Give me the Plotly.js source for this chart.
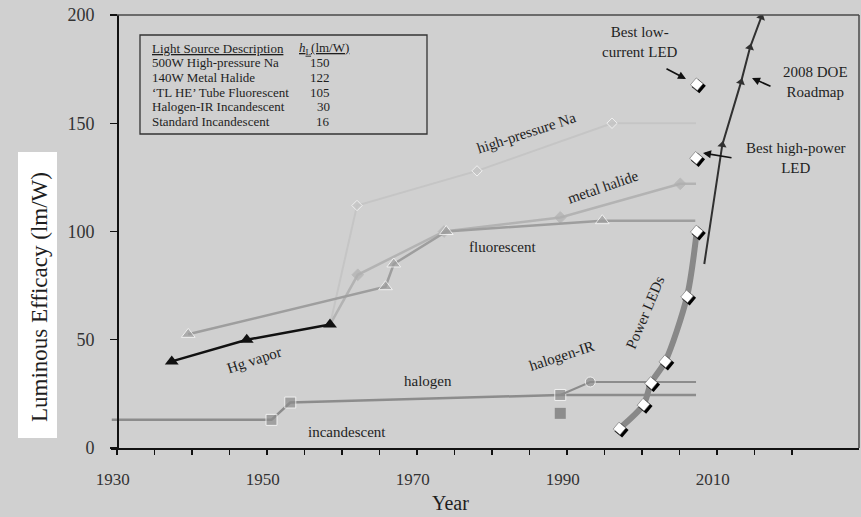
<!DOCTYPE html>
<html>
<head>
<meta charset="utf-8">
<script src="https://cdn.plot.ly/plotly-3.0.1.min.js"></script>
<style>
  html, body { margin: 0; padding: 0; background: #d0d0d0; }
  #chart { width: 861px; height: 517px; }
</style>
</head>
<body>
<div id="chart"></div>
<script>
// ---- Efficacy history (lm/W) by year ----
const incYears    = [1929.3, 1950.6, 1953.1, 1989.1, 2007.2];
const incEff      = [13, 13, 21, 24.5, 24.5];
const stdIncYears = [1989.1];
const stdIncEff   = [16];
const halIRYears  = [1989.1, 1993.1, 2007.2];
const halIREff    = [24.5, 30.5, 30.5];
const hgYears     = [1937.3, 1947.3, 1958.4];
const hgEff       = [40, 50, 57];
const fluorYears  = [1939.5, 1965.8, 1966.9, 1973.9, 1994.7, 2007.1];
const fluorEff    = [52.5, 74.5, 85, 100, 105, 105];
const mhYears     = [1958.4, 1962.1, 1973.6, 1989.1, 2005.1, 2007.2];
const mhEff       = [57, 80, 100, 106.5, 122, 122];
const hpsYears    = [1958.4, 1962.0, 1978.0, 1996.0, 2007.2];
const hpsEff      = [57, 112, 128, 150, 150];
const ledYears    = [1997.0, 2000.2, 2001.2, 2003.1, 2006.0, 2007.3];
const ledEff      = [9, 20, 30, 40, 70, 100];
const bestLowYear = [2007.3];
const bestLowEff  = [168];
const bestHiYear  = [2007.2];
const bestHiEff   = [134];
const doeYears    = [2008.3, 2010.7, 2013.2, 2014.4, 2015.9];
const doeEff      = [85, 140, 169, 185, 199];

// ---- Axis ticks ----
const xTickVals = [1930, 1935, 1940, 1945, 1950, 1955, 1960, 1965, 1970, 1975,
                   1980, 1985, 1990, 1995, 2000, 2005, 2010, 2015, 2020];
const xTickText = ['1930', '', '', '', '1950', '', '', '', '1970', '',
                   '', '', '1990', '', '', '', '2010', '', ''];
const yTickVals = [0, 50, 100, 150, 200];

// ---- Reference table ----
const tableLabels = ['500W High-pressure Na', '140W Metal Halide', '\u2018TL HE\u2019 Tube Fluorescent',
                     'Halogen-IR Incandescent', 'Standard Incandescent'];
const tableValues = ['150', '122', '105', '30', '16'];

// ---- Layout geometry (pixels) ----
const W = 861, H = 517;
const M = { l: 111, r: 2, t: 15, b: 69 };
const plotW = W - M.l - M.r, plotH = H - M.t - M.b;
const X_RANGE = [1929.2, 2028.93];
const Y_RANGE = [0, 200];
const pxPerYear = plotW / (X_RANGE[1] - X_RANGE[0]);
const pxPerUnit = plotH / (Y_RANGE[1] - Y_RANGE[0]);
// pixel -> paper helpers for frame, table and label placement
const px = v => (v - M.l) / plotW;
const py = v => (M.t + plotH - v) / plotH;
// pixel -> data helpers for text labels
const dx = v => X_RANGE[0] + (v - M.l) / pxPerYear;
const dy = v => Y_RANGE[0] + (M.t + plotH - v) / pxPerUnit;

const SERIF = 'Liberation Serif, Times New Roman, serif';
const INK = '#1e1e1e';

function sizes(n, idx, s) {
  const a = new Array(n).fill(0);
  idx.forEach(i => { a[i] = s; });
  return a;
}

const traces = [
  // high-pressure sodium
  { x: hpsYears, y: hpsEff, mode: 'lines+markers',
    line: { color: '#c5c5c5', width: 2 },
    marker: { symbol: 'diamond', color: '#c5c5c5', size: sizes(hpsYears.length, [1, 2, 3], 8) } },
  // metal halide
  { x: mhYears, y: mhEff, mode: 'lines+markers',
    line: { color: '#b3b3b3', width: 2.5 },
    marker: { symbol: 'diamond', color: '#b0b0b0', size: sizes(mhYears.length, [1, 2, 3, 4], 9) } },
  // fluorescent
  { x: fluorYears, y: fluorEff, mode: 'lines+markers',
    line: { color: '#9e9e9e', width: 2.5 },
    marker: { symbol: 'triangle-up', color: '#9e9e9e', size: sizes(fluorYears.length, [0, 1, 2, 3, 4], 12) } },
  // mercury vapor
  { x: hgYears, y: hgEff, mode: 'lines+markers',
    line: { color: '#111111', width: 2.5 },
    marker: { symbol: 'triangle-up', color: '#111111', size: 12 } },
  // incandescent / halogen
  { x: incYears, y: incEff, mode: 'lines+markers',
    line: { color: '#8c8c8c', width: 2.5 },
    marker: { symbol: 'square', color: '#8c8c8c', size: sizes(incYears.length, [1, 2, 3], 11) } },
  // standard incandescent
  { x: stdIncYears, y: stdIncEff, mode: 'markers',
    marker: { symbol: 'square', color: '#8c8c8c', size: 11 } },
  // halogen-IR
  { x: halIRYears, y: halIREff, mode: 'lines+markers',
    line: { color: '#8c8c8c', width: 2 },
    marker: { symbol: 'circle', color: '#8c8c8c', size: sizes(halIRYears.length, [1], 10) } },
  // power LEDs curve
  { x: ledYears, y: ledEff, mode: 'lines',
    line: { color: '#888888', width: 6, shape: 'spline', smoothing: 0.8 } },
  // 2008 DOE roadmap
  { x: doeYears, y: doeEff, mode: 'lines+markers',
    line: { color: '#303030', width: 2 },
    marker: { symbol: 'triangle-up', color: '#303030', size: 8, angleref: 'previous' } }
];

// LED data points: dark shadow offset down-right (x2/y2), white face on top (x3/y3)
const ledPtsX = ledYears.concat(bestLowYear, bestHiYear);
const ledPtsY = ledEff.concat(bestLowEff, bestHiEff);
traces.push({ x: ledPtsX, y: ledPtsY, mode: 'markers', xaxis: 'x2', yaxis: 'y2',
  marker: { symbol: 'square', angle: 40, color: '#000000', size: 10 } });
traces.push({ x: ledPtsX, y: ledPtsY, mode: 'markers', xaxis: 'x3', yaxis: 'y3',
  marker: { symbol: 'square', angle: 40, color: '#ffffff', size: 9,
            line: { color: '#666666', width: 0.6 } } });

traces.forEach(t => { t.showlegend = false; t.hoverinfo = 'skip'; });

const shadowDx = 2 / pxPerYear, shadowDy = 2 / pxPerUnit;

function label(text, xPx, yPx, angle, size) {
  return {
    text: text, x: dx(xPx), y: dy(yPx), xref: 'x', yref: 'y',
    xanchor: 'center', yanchor: 'middle',
    showarrow: false, textangle: angle || 0,
    font: { family: SERIF, size: size || 15, color: INK }
  };
}

function paperText(text, xPx, yPx, xanchor, size, extra) {
  return Object.assign({
    text: text, xref: 'paper', yref: 'paper', x: px(xPx), y: py(yPx),
    xanchor: xanchor, yanchor: 'middle', showarrow: false,
    font: { family: SERIF, size: size, color: INK }
  }, extra || {});
}

function pointer(xData, yData, axPx, ayPx) {
  return {
    text: '', x: xData, y: yData, xref: 'x', yref: 'y',
    showarrow: true, ax: axPx, ay: ayPx, axref: 'pixel', ayref: 'pixel',
    arrowhead: 2, arrowsize: 1, arrowwidth: 1.6, arrowcolor: '#111', standoff: 0
  };
}

const annotations = [
  label('high-pressure Na', 526, 133, -18),
  label('metal halide', 603, 187, -19),
  label('fluorescent', 502, 247, 0),
  label('Hg vapor', 254, 360, -18),
  label('halogen', 428, 381, 0),
  label('incandescent', 347, 432, 0),
  label('halogen-IR', 561, 356, -18),
  label('Power LEDs', 645, 313, -67),
  label('Best low-<br>current LED', 640, 42, 0),
  label('2008 DOE<br>Roadmap', 815, 82, 0),
  label('Best high-power<br>LED', 796, 158, 0),
  // arrows toward highlighted marks
  pointer(dx(686), dy(79), -21, -11),
  pointer(dx(752), dy(78), 20, 9),
  pointer(dx(703), dy(153), 30, 5),
  // axis titles
  paperText('Luminous Efficacy (lm/W)', 40, 297, 'center', 23, { textangle: -90 }),
  paperText('Year', 450, 503, 'center', 20),
  // table header
  paperText('<u>Light Source Description</u>', 150, 48, 'left', 13),
  paperText('<u><i>h</i><sub>L</sub>(lm/W)</u>', 297, 48, 'left', 13)
];

tableLabels.forEach((t, i) => {
  const rowY = 62.5 + i * 14.8;
  annotations.push(paperText(t, 150, rowY, 'left', 13));
  annotations.push(paperText(tableValues[i], 332, rowY, 'right', 13));
});

const shapes = [
  // white panel behind the y-axis title
  { type: 'rect', xref: 'paper', yref: 'paper', x0: px(18), x1: px(57), y0: py(438), y1: py(152),
    fillcolor: '#ffffff', line: { width: 0 }, layer: 'below' },
  // plot frame: top and right edges
  { type: 'line', xref: 'paper', yref: 'paper', x0: px(117), x1: 1, y0: 1, y1: 1,
    line: { color: '#4a4a4a', width: 1.5 } },
  { type: 'line', xref: 'paper', yref: 'paper', x0: 1, x1: 1, y0: 0, y1: 1,
    line: { color: '#4a4a4a', width: 1.5 } },
  // table border
  { type: 'rect', xref: 'paper', yref: 'paper', x0: px(140), x1: px(427), y0: py(134), y1: py(35),
    line: { color: '#333333', width: 1.3 } }
];

const layout = {
  width: W, height: H,
  margin: M,
  paper_bgcolor: '#d0d0d0',
  plot_bgcolor: '#d0d0d0',
  showlegend: false,
  xaxis: {
    range: X_RANGE, showgrid: false, zeroline: false,
    showline: true, linecolor: '#111', linewidth: 1.5,
    ticks: 'outside', ticklen: 5, tickwidth: 1.3, tickcolor: '#111',
    // year labels sit slightly left of their ticks
    tickvals: xTickVals, ticktext: xTickText.map(t => t ? t + '\u2002' : t),
    ticklabelstandoff: 10,
    tickfont: { family: SERIF, size: 17, color: '#333' }
  },
  yaxis: {
    range: Y_RANGE, showgrid: false, zeroline: false,
    anchor: 'free', position: px(117),
    showline: true, linecolor: '#111', linewidth: 1.5,
    ticks: 'outside', ticklen: 7, tickwidth: 1.3, tickcolor: '#111',
    tickvals: yTickVals, ticklabelstandoff: 12,
    tickfont: { family: SERIF, size: 18, color: '#333' }
  },
  xaxis2: { overlaying: 'x', anchor: 'y2', visible: false,
            range: [X_RANGE[0] - shadowDx, X_RANGE[1] - shadowDx] },
  yaxis2: { overlaying: 'y', anchor: 'x2', visible: false,
            range: [Y_RANGE[0] + shadowDy, Y_RANGE[1] + shadowDy] },
  xaxis3: { overlaying: 'x', anchor: 'y3', visible: false, range: X_RANGE },
  yaxis3: { overlaying: 'y', anchor: 'x3', visible: false, range: Y_RANGE },
  shapes: shapes,
  annotations: annotations
};

Plotly.newPlot('chart', traces, layout, { staticPlot: true, displayModeBar: false });
</script>
</body>
</html>
